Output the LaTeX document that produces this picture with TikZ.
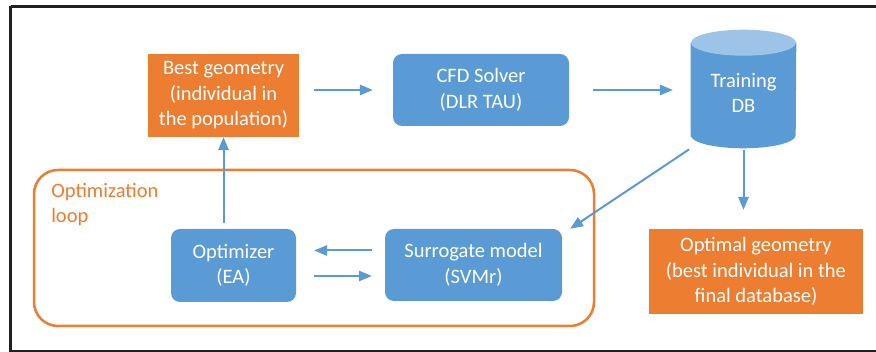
\documentclass[tikz,border=0pt]{standalone}
\usepackage{fontspec}
\setmainfont{Carlito}
\usepackage{tikz}
\usetikzlibrary{arrows,positioning,calc}

\definecolor{boxorange}{HTML}{ED7D31}
\definecolor{boxblue}{HTML}{5B9BD5}
\definecolor{dbtop}{HTML}{9DC3E6}
\definecolor{framegray}{HTML}{231F20}

\begin{document}
\begin{tikzpicture}[x=1pt,y=-1pt,>=triangle 45,semithick]
		\tikzstyle{every node}=[font=\fontsize{20.5}{25.5}\selectfont,align=center,inner sep=0pt]
		\tikzstyle{orangebox}=[fill=boxorange,text=white]
		\tikzstyle{bluebox}=[fill=boxblue,text=white,rounded corners=9pt]
		\tikzstyle{flow}=[->,draw=boxblue,line width=2pt]
		\useasboundingbox (0,0) rectangle (876,352);
		\draw[framegray,line width=2.5pt] (10.5,6.5) -- (880,6.5)
			(10.5,6.5) -- (10.5,351) -- (880,351);
		% boxes
		\node[orangebox,minimum width=151pt,minimum height=83pt] (best) at (223.5,95.5)
			{Best geometry\\(individual in\\the population)};
		\node[bluebox,minimum width=176pt,minimum height=72pt] (cfd) at (481,90)
			{CFD Solver\\(DLR TAU)};
		\node[minimum width=105pt,minimum height=118pt] (db) at (743.5,89) {};
		\fill[boxblue] (db.north west) ++(0,13) -- ($(db.south west)+(0,-13)$)
			arc[start angle=180,end angle=360,x radius=52.5pt,y radius=13pt]
			-- ($(db.north east)+(0,13)$) -- cycle;
		\fill[dbtop] ($(db.north)+(0,13)$) ellipse[x radius=52.5pt,y radius=13pt];
		\node[text=white] at ($(db.center)+(0,4)$) {Training\\DB};
		\draw[boxorange,line width=2.5pt,rounded corners=24pt] (34,170) rectangle (594,326);
		\node[text=boxorange,align=left,anchor=north west] (looplabel) at (51,183)
			{Optimization\\loop};
		\node[bluebox,minimum width=125pt,minimum height=73pt] (opt) at (233.5,265.5)
			{Optimizer\\(EA)};
		\node[bluebox,minimum width=177pt,minimum height=72pt] (sur) at (473.5,265)
			{Surrogate model\\(SVMr)};
		\node[orangebox,minimum width=214pt,minimum height=85pt] (final) at (756,271.5)
			{Optimal geometry\\(best individual in the\\final database)};
		% connectors
		\draw[flow,shorten <=15pt,shorten >=20pt] (best.east |- cfd.west) -- (cfd.west);
		\draw[flow,shorten <=24pt,shorten >=18pt] (cfd.east) -- (cfd.east -| db.west);
		\draw[flow,shorten <=6pt] (best.south |- opt.north) -- (best.south);
		\draw[flow,shorten <=13pt,shorten >=18pt] ([yshift=14.5pt]sur.west) -- ([yshift=14.5pt]sur.west -| opt.east);
		\draw[flow,shorten <=18pt,shorten >=13pt] ([yshift=-10.5pt]opt.east) -- ([yshift=-10.5pt]opt.east -| sur.west);
		\draw[flow,shorten <=2pt] (db.south west) -- ([xshift=8pt]sur.north east);
		\draw[flow,shorten <=2pt,shorten >=19pt] (db.south) -- (db.south |- final.north);
\end{tikzpicture}
\end{document}
